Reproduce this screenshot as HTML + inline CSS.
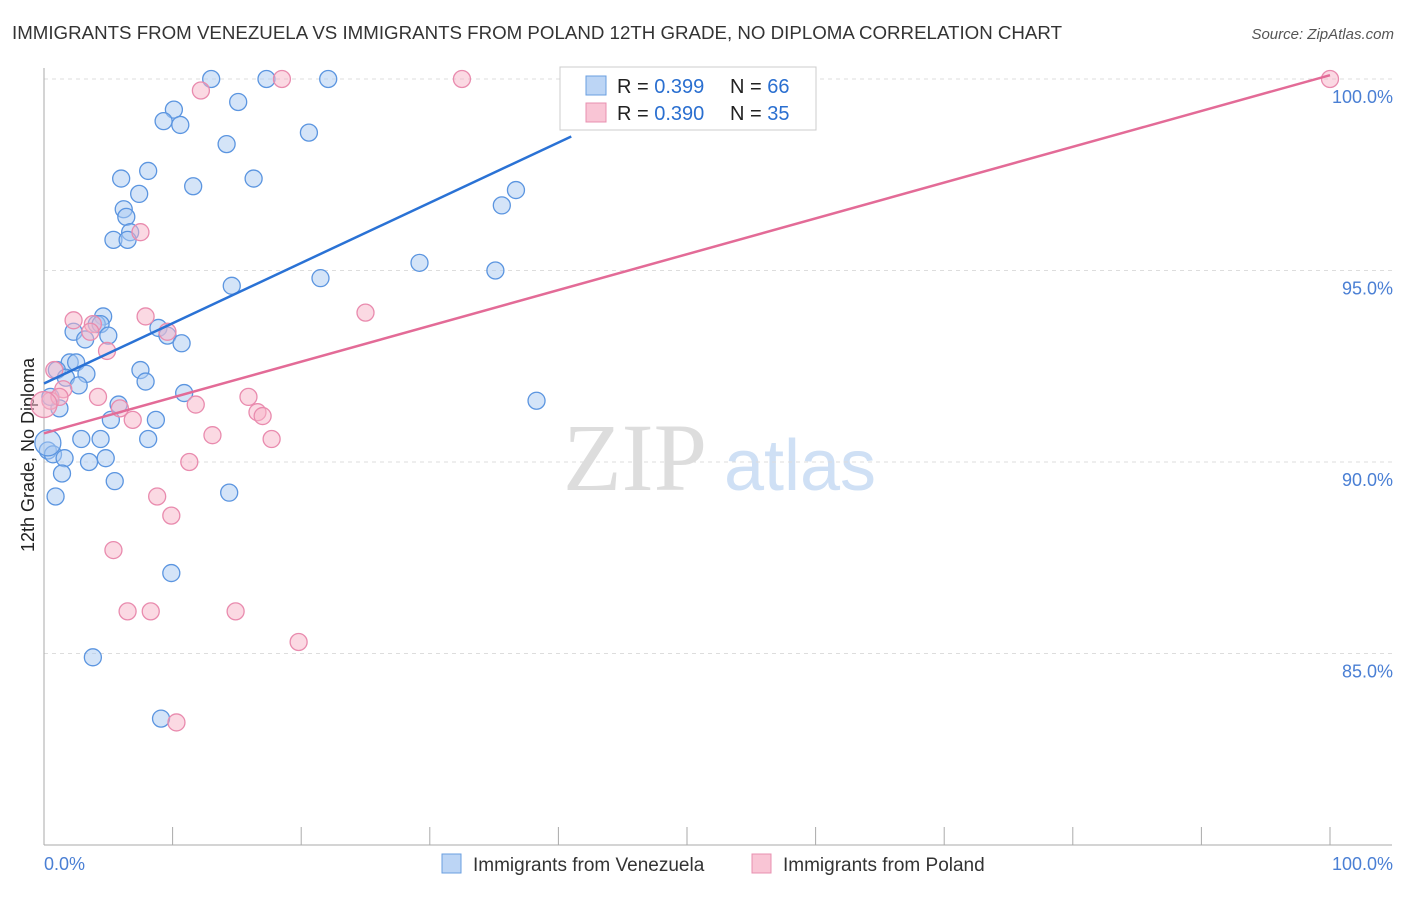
<!DOCTYPE html>
<html><head><meta charset="utf-8"><style>
body{margin:0;background:#fff;font-family:"Liberation Sans",sans-serif;}
</style></head><body>
<svg id="chart" width="1406" height="892" xmlns="http://www.w3.org/2000/svg" style="font-family:'Liberation Sans',sans-serif">
<text x="12" y="39" font-size="18" fill="#333" textLength="1050" lengthAdjust="spacingAndGlyphs">IMMIGRANTS FROM VENEZUELA VS IMMIGRANTS FROM POLAND 12TH GRADE, NO DIPLOMA CORRELATION CHART</text>
<text x="1394" y="39" font-size="15" fill="#555" font-style="italic" text-anchor="end">Source: ZipAtlas.com</text>
<text transform="translate(34,455) rotate(-90)" font-size="18" fill="#222" text-anchor="middle">12th Grade, No Diploma</text>
<g>
<text x="635" y="490" font-size="96" font-family="Liberation Serif" fill="#ddd" text-anchor="middle">ZIP</text>
<text x="800" y="490" font-size="72" fill="#cfe0f5" text-anchor="middle">atlas</text>
</g>
<g id="grid"></g><g id="axes"></g><g id="pts"></g><g id="lines"></g>
<g>
<rect x="560" y="67" width="256" height="63" fill="#fff" stroke="#ccc"/>
<rect x="586" y="76" width="20" height="19" fill="#bcd5f5" stroke="#6a9fe0"/>
<rect x="586" y="103" width="20" height="19" fill="#f9c5d5" stroke="#e890b0"/>
<text x="617" y="93" font-size="20" fill="#222">R = <tspan fill="#2a6fd0">0.399</tspan></text>
<text x="730" y="93" font-size="20" fill="#222">N = <tspan fill="#2a6fd0">66</tspan></text>
<text x="617" y="120" font-size="20" fill="#222">R = <tspan fill="#2a6fd0">0.390</tspan></text>
<text x="730" y="120" font-size="20" fill="#222">N = <tspan fill="#2a6fd0">35</tspan></text>
</g>
<g>
<rect x="442" y="854" width="19" height="19" fill="#bcd5f5" stroke="#6a9fe0"/>
<text x="473" y="871" font-size="19" fill="#333">Immigrants from Venezuela</text>
<rect x="752" y="854" width="19" height="19" fill="#f9c5d5" stroke="#e890b0"/>
<text x="783" y="871" font-size="19" fill="#333">Immigrants from Poland</text>
</g>
</svg>
<script>
const yTicks=[100,95,90,85];
const yTickLabels=["100.0%","95.0%","90.0%","85.0%"];
const blueX=[13.0,17.3,22.1,10.1,9.3,10.6,15.1,20.6,14.2,8.1,6.0,16.3,11.6,7.4,6.2,6.4,6.7,5.4,6.5,36.7,35.6,29.2,35.1,21.5,14.6,4.6,2.3,4.1,4.4,5.0,3.2,8.9,9.6,10.7,2.0,2.5,1.0,3.3,7.5,1.7,2.7,7.9,10.9,38.3,5.8,1.2,5.2,8.7,2.9,4.4,8.1,0.3,0.7,1.6,4.8,3.5,1.4,5.5,14.4,0.9,9.9,3.8,9.1,0.3,0.5];
const blueY=[100,100,100,99.2,98.9,98.8,99.4,98.6,98.3,97.6,97.4,97.4,97.2,97.0,96.6,96.4,96.0,95.8,95.8,97.1,96.7,95.2,95.0,94.8,94.6,93.8,93.4,93.6,93.6,93.3,93.2,93.5,93.3,93.1,92.6,92.6,92.4,92.3,92.4,92.2,92.0,92.1,91.8,91.6,91.5,91.4,91.1,91.1,90.6,90.6,90.6,90.3,90.2,90.1,90.1,90.0,89.7,89.5,89.2,89.1,87.1,84.9,83.3,90.5,91.7];
const pinkX=[18.5,32.5,100,12.2,7.5,25.0,7.9,2.3,3.8,3.6,9.6,4.9,0.8,1.5,0.5,4.2,5.9,1.2,15.9,11.8,6.9,16.6,17.0,13.1,17.7,11.3,8.8,9.9,5.4,6.5,8.3,14.9,19.8,10.3,0.0];
const pinkY=[100,100,100,99.7,96.0,93.9,93.8,93.7,93.6,93.4,93.4,92.9,92.4,91.9,91.6,91.7,91.4,91.7,91.7,91.5,91.1,91.3,91.2,90.7,90.6,90.0,89.1,88.6,87.7,86.1,86.1,86.1,85.3,83.2,91.5];
const blueLine=[[0,92.05],[41,98.5]];
const pinkLine=[[0,90.75],[100,100.1]];
const NS="http://www.w3.org/2000/svg";
const X=v=>44+v*12.86, Y=v=>79+(100-v)*38.3;
function mk(p,t,a){const e=document.createElementNS(NS,t);for(const k in a)e.setAttribute(k,a[k]);p.appendChild(e);return e;}
const g=document.getElementById('grid');
yTicks.forEach((t,i)=>{
 const l=mk(g,'line',{x1:44,x2:1392,y1:Y(t),y2:Y(t),stroke:'#ddd','stroke-dasharray':'4,4'});
 
 
 const tx=mk(g,'text',{x:1393,y:Y(t)+24,'font-size':18,fill:'#4a7fd4','text-anchor':'end'});
 tx.textContent=yTickLabels[i];
 
 
});
const ax=document.getElementById('axes');
const ya=mk(ax,'line',{x1:44,x2:44,y1:68,y2:845,stroke:'#aaa'});


const xa=mk(ax,'line',{x1:44,x2:1392,y1:845,y2:845,stroke:'#aaa'});


for(let i=0;i<=10;i++){const t=mk(ax,'line',{x1:X(i*10),x2:X(i*10),y1:827,y2:845,stroke:'#aaa'});
 
 }
const x0=mk(ax,'text',{x:44,y:870,'font-size':18,fill:'#4a7fd4'});x0.textContent='0.0%';


const x1=mk(ax,'text',{x:1393,y:870,'font-size':18,fill:'#4a7fd4','text-anchor':'end'});x1.textContent='100.0%';


const pg=document.getElementById('pts');
function pts(xs,ys,fill,stroke,name){xs.forEach((x,i)=>{const big=(x<0.6&&(ys[i]==90.5||ys[i]==91.5));
 const c=mk(pg,'circle',{cx:X(x),cy:Y(ys[i]),r:big?13:8.5,fill:fill,'fill-opacity':0.5,stroke:stroke,'stroke-width':1.3});
 
 });}
pts(blueX,blueY,'#a9c9f2','#5b95e0','venezuela-point');
pts(pinkX,pinkY,'#f7b3c8','#e98bae','poland-point');
const lg=document.getElementById('lines');
const bl=mk(lg,'line',{x1:X(blueLine[0][0]),y1:Y(blueLine[0][1]),x2:X(blueLine[1][0]),y2:Y(blueLine[1][1]),stroke:'#2a72d5','stroke-width':2.5});


const pl=mk(lg,'line',{x1:X(pinkLine[0][0]),y1:Y(pinkLine[0][1]),x2:X(pinkLine[1][0]),y2:Y(pinkLine[1][1]),stroke:'#e36b97','stroke-width':2.5});


</script>
</body></html>
